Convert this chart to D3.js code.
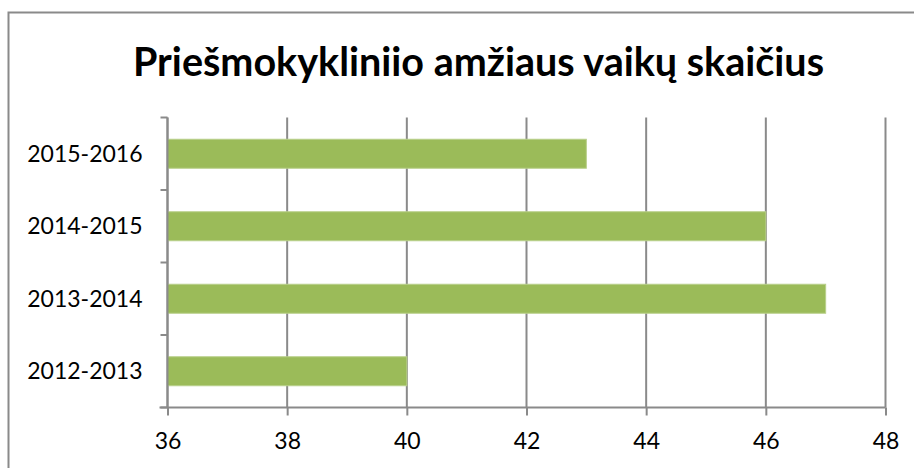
<!DOCTYPE html>
<html>
<head>
<meta charset="utf-8">
<script src="https://d3js.org/d3.v7.min.js"></script>
<style>
  body { margin: 0; background: #fff; }
  svg { display: block; font-family: Lato, "Open Sans", sans-serif; }
</style>
</head>
<body>
<svg id="chart"></svg>
<script>
// chart data
const title = "Priešmokykliniio amžiaus vaikų skaičius";
const categories = ["2012-2013", "2013-2014", "2014-2015", "2015-2016"];
const values = [40, 47, 46, 43];
const xTicks = [36, 38, 40, 42, 44, 46, 48];

const width = 914, height = 468;
const plot = { left: 167.5, right: 885.5, top: 117.5, bottom: 407.5 };

const svg = d3.select("#chart")
    .attr("width", width)
    .attr("height", height);

// outer chart frame (runs off the right and bottom edge)
svg.append("rect")
    .attr("x", 8.5)
    .attr("y", 12.5)
    .attr("width", 1000)
    .attr("height", 1000)
    .attr("fill", "none")
    .attr("stroke", "#8a8a8a")
    .attr("stroke-width", 2);

const x = d3.scaleLinear()
    .domain([xTicks[0], xTicks[xTicks.length - 1]])
    .range([plot.left, plot.right]);

const y = d3.scaleBand()
    .domain(categories.slice().reverse())
    .range([plot.top, plot.bottom])
    .paddingInner(0.6)
    .paddingOuter(0.3);

// vertical gridlines
svg.append("g")
    .selectAll("line")
    .data(xTicks)
    .enter().append("line")
    .attr("x1", d => x(d))
    .attr("x2", d => x(d))
    .attr("y1", plot.top)
    .attr("y2", plot.bottom)
    .attr("stroke", "#8a8a8a")
    .attr("stroke-width", 2);

// bars
svg.append("g")
    .selectAll("rect")
    .data(values)
    .enter().append("rect")
    .attr("x", x(xTicks[0]))
    .attr("y", (d, i) => y(categories[i]))
    .attr("width", d => x(d) - x(xTicks[0]))
    .attr("height", y.bandwidth())
    .attr("fill", "#9bbb59")
    .attr("stroke", "#b9d08a")
    .attr("stroke-width", 1);

// x axis
const xAxis = svg.append("g")
    .attr("transform", `translate(0,${plot.bottom})`)
    .call(d3.axisBottom(x).tickValues(xTicks).tickSize(8).tickPadding(17).tickSizeOuter(0));
xAxis.select(".domain").remove();
xAxis.append("line")
    .attr("x1", plot.left - 8)
    .attr("x2", plot.right)
    .attr("stroke", "#8a8a8a")
    .attr("stroke-width", 2);
xAxis.selectAll(".tick line").attr("stroke", "#8a8a8a").attr("stroke-width", 2);
xAxis.selectAll(".tick text")
    .attr("fill", "#000")
    .attr("font-size", 23)
    .attr("font-family", "Lato, sans-serif");

// y axis: ticks sit on the band boundaries
const yAxis = svg.append("g");
yAxis.append("line")
    .attr("x1", plot.left)
    .attr("x2", plot.left)
    .attr("y1", plot.top)
    .attr("y2", plot.bottom)
    .attr("stroke", "#8a8a8a")
    .attr("stroke-width", 2);

const boundaries = d3.range(categories.length + 1).map(i => plot.top + i * (plot.bottom - plot.top) / categories.length);
yAxis.selectAll(".ytick")
    .data(boundaries)
    .enter().append("line")
    .attr("class", "ytick")
    .attr("x1", plot.left - 7)
    .attr("x2", plot.left)
    .attr("y1", d => d)
    .attr("y2", d => d)
    .attr("stroke", "#8a8a8a")
    .attr("stroke-width", 2);

yAxis.selectAll(".ylabel")
    .data(categories)
    .enter().append("text")
    .attr("class", "ylabel")
    .attr("x", plot.left - 25)
    .attr("y", d => y(d) + y.bandwidth() / 2)
    .attr("dy", "0.35em")
    .attr("text-anchor", "end")
    .attr("font-size", 23)
    .attr("fill", "#000")
    .text(d => d);

// title
svg.append("text")
    .attr("x", 478.5)
    .attr("y", 76)
    .attr("text-anchor", "middle")
    .attr("font-size", 39.5)
    .attr("font-weight", "bold")
    .attr("fill", "#000")
    .text(title);
</script>
</body>
</html>
